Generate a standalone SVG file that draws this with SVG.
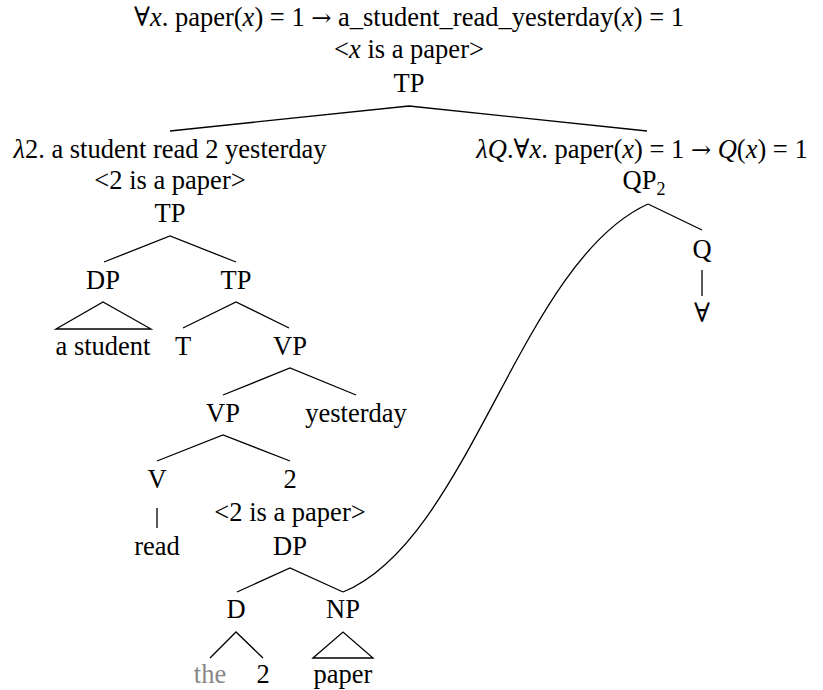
<svg xmlns="http://www.w3.org/2000/svg" width="823" height="690" viewBox="0 0 823 690" font-family="'Liberation Serif', 'Times New Roman', Times, 'DejaVu Serif', serif">
<style>
text{font-family:'Liberation Serif','Times New Roman',Times,'DejaVu Serif',serif;font-size:26.5px;fill:#000;text-anchor:middle}
.i{font-style:italic}
.ar{font-family:'DejaVu Serif',serif;font-size:24px}
.g{fill:#888}
.sub{font-size:18px}
.c{fill:none;stroke:#000;stroke-width:1.3;stroke-linejoin:miter}
</style>
<rect width="823" height="690" fill="#fff"/>
<g id="connectors">
<polyline class="c" points="170,131 409,106 647,131"/>
<polyline class="c" points="104,262 170,236 236,262"/>
<polygon class="c" points="56,329 103,302 151,329"/>
<polyline class="c" points="183,328 236,302 289,328"/>
<polyline class="c" points="223,395 290,368 356,395"/>
<polyline class="c" points="157,461 223,435 290,461"/>
<line class="c" x1="157" y1="508" x2="157" y2="528"/>
<polyline class="c" points="237,592 290,568 343,592"/>
<polyline class="c" points="210,658 236,632 263,658"/>
<polygon class="c" points="313,658 343,632 373,658"/>
<line class="c" x1="648" y1="204" x2="702" y2="230"/>
<line class="c" x1="702" y1="270" x2="702" y2="296"/>
<path class="c" d="M343,592 C470,540 520,262 648,204"/>
</g>
<g id="root">
<text x="409" y="26">∀<tspan class="i">x</tspan>. paper(<tspan class="i">x</tspan>) = 1 <tspan class="ar">→</tspan> a_student_read_yesterday(<tspan class="i">x</tspan>) = 1</text>
<text x="409" y="58">&lt;<tspan class="i">x</tspan> is a paper&gt;</text>
<text x="409" y="92">TP</text>
</g>
<g id="tp-lambda">
<text x="170" y="158"><tspan class="i">λ</tspan>2. a student read 2 yesterday</text>
<text x="170" y="189">&lt;2 is a paper&gt;</text>
<text x="170" y="222">TP</text>
</g>
<g id="qp">
<text x="642" y="158"><tspan class="i">λQ</tspan>.∀<tspan class="i">x</tspan>. paper(<tspan class="i">x</tspan>) = 1 <tspan class="ar">→</tspan> <tspan class="i">Q</tspan>(<tspan class="i">x</tspan>) = 1</text>
<text x="644" y="189">QP<tspan class="sub" dy="6">2</tspan></text>
</g>
<g id="q"><text x="702" y="258">Q</text></g>
<g id="forall"><text x="702" y="322">∀</text></g>
<g id="dp-subj"><text x="103" y="289">DP</text></g>
<g id="a-student"><text x="103" y="355">a student</text></g>
<g id="tp-bar"><text x="236" y="289">TP</text></g>
<g id="t"><text x="183" y="355">T</text></g>
<g id="vp-top"><text x="290" y="355">VP</text></g>
<g id="vp"><text x="223" y="422">VP</text></g>
<g id="yesterday"><text x="356" y="422">yesterday</text></g>
<g id="v"><text x="157" y="488">V</text></g>
<g id="read"><text x="157" y="555">read</text></g>
<g id="trace-dp">
<text x="290" y="488">2</text>
<text x="290" y="521">&lt;2 is a paper&gt;</text>
<text x="290" y="555">DP</text>
</g>
<g id="d"><text x="236" y="618">D</text></g>
<g id="the"><text class="g" x="210" y="683">the</text></g>
<g id="two"><text x="263" y="683">2</text></g>
<g id="np"><text x="343" y="618">NP</text></g>
<g id="paper"><text x="343" y="683">paper</text></g>
</svg>
